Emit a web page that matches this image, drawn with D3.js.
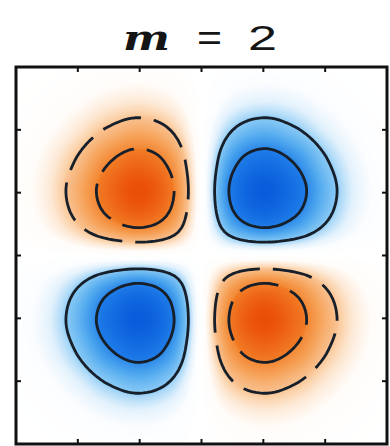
<!DOCTYPE html>
<html>
<head>
<meta charset="utf-8">
<script src="https://cdn.jsdelivr.net/npm/d3@7"></script>
<style>
  html, body { margin: 0; padding: 0; background: #ffffff; }
  svg { display: block; }
</style>
</head>
<body>
<svg id="chart" width="390" height="446"></svg>
<script>
// Azimuthal mode m = 2: field sampled on a 13 x 13 grid (rows top to bottom)
const titleSymbol = "m";
const titleValue = "2";
const xValues = [-3, -2.5, -2, -1.5, -1, -0.5, 0, 0.5, 1, 1.5, 2, 2.5, 3];
const yValues = [3, 2.5, 2, 1.5, 1, 0.5, 0, -0.5, -1, -1.5, -2, -2.5, -3];
const fieldRows = [
  [-0.00, -0.01, -0.02, -0.04, -0.06, -0.04, 0, 0.04, 0.06, 0.04, 0.02, 0.01, 0.00],
  [-0.01, -0.03, -0.08, -0.15, -0.18, -0.13, 0, 0.13, 0.18, 0.15, 0.08, 0.03, 0.01],
  [-0.02, -0.08, -0.20, -0.36, -0.45, -0.33, 0, 0.33, 0.45, 0.36, 0.20, 0.08, 0.02],
  [-0.04, -0.15, -0.36, -0.65, -0.80, -0.59, 0, 0.59, 0.80, 0.65, 0.36, 0.15, 0.04],
  [-0.06, -0.18, -0.45, -0.80, -1.00, -0.73, 0, 0.73, 1.00, 0.80, 0.45, 0.18, 0.06],
  [-0.04, -0.13, -0.33, -0.59, -0.73, -0.53, 0, 0.53, 0.73, 0.59, 0.33, 0.13, 0.04],
  [ 0.00,  0.00,  0.00,  0.00,  0.00,  0.00, 0, 0.00, 0.00, 0.00, 0.00, 0.00, 0.00],
  [ 0.04,  0.13,  0.33,  0.59,  0.73,  0.53, 0, -0.53, -0.73, -0.59, -0.33, -0.13, -0.04],
  [ 0.06,  0.18,  0.45,  0.80,  1.00,  0.73, 0, -0.73, -1.00, -0.80, -0.45, -0.18, -0.06],
  [ 0.04,  0.15,  0.36,  0.65,  0.80,  0.59, 0, -0.59, -0.80, -0.65, -0.36, -0.15, -0.04],
  [ 0.02,  0.08,  0.20,  0.36,  0.45,  0.33, 0, -0.33, -0.45, -0.36, -0.20, -0.08, -0.02],
  [ 0.01,  0.03,  0.08,  0.15,  0.18,  0.13, 0, -0.13, -0.18, -0.15, -0.08, -0.03, -0.01],
  [ 0.00,  0.01,  0.02,  0.04,  0.06,  0.04, 0, -0.04, -0.06, -0.04, -0.02, -0.01, -0.00]
];
const contourLevels = [1 / 3, 2 / 3];
const tickValues = [-2, -1, 0, 1, 2];

const plot = { left: 16, right: 387, top: 67, bottom: 444 };
const x = d3.scaleLinear().domain([-3, 3]).range([plot.left, plot.right]);
const y = d3.scaleLinear().domain([-3, 3]).range([plot.bottom, plot.top]);

const svg = d3.select("#chart");
const nCols = xValues.length, nRows = yValues.length;
const step = xValues[1] - xValues[0];

// Catmull-Rom sampling of the grid at any (xv, yv)
function cubic(p0, p1, p2, p3, t) {
  return p1 + 0.5 * t * (p2 - p0 + t * (2 * p0 - 5 * p1 + 4 * p2 - p3 + t * (3 * (p1 - p2) + p3 - p0)));
}
function cell(r, c) {
  r = Math.max(0, Math.min(nRows - 1, r));
  c = Math.max(0, Math.min(nCols - 1, c));
  return fieldRows[r][c];
}
function sample(xv, yv) {
  const fc = (xv - xValues[0]) / step, fr = (yValues[0] - yv) / step;
  const c = Math.floor(fc), r = Math.floor(fr);
  const tc = fc - c, tr = fr - r;
  const rowVals = [];
  for (let k = -1; k <= 2; k++) {
    rowVals.push(cubic(cell(r + k, c - 1), cell(r + k, c), cell(r + k, c + 1), cell(r + k, c + 2), tc));
  }
  return cubic(rowVals[0], rowVals[1], rowVals[2], rowVals[3], tr);
}

// Diverging colour map: orange for negative, blue for positive values
const blueScale = d3.scaleLinear()
  .domain([0, 0.1, 0.2, 0.3, 0.333, 0.5, 0.666, 0.667, 1])
  .range(["#ffffff", "#fbfdff", "#e2f1fc", "#a9d8f8", "#8bcaf5", "#55acef", "#2b88e9", "#1f7de8", "#095cdb"])
  .interpolate(d3.interpolateRgb).clamp(true);
const orangeScale = d3.scaleLinear()
  .domain([0, 0.1, 0.2, 0.3, 0.333, 0.5, 0.666, 0.667, 1])
  .range(["#ffffff", "#fffcf9", "#fde9d6", "#fbcfa4", "#f9c190", "#f6a45c", "#f38732", "#f27d27", "#ea4f06"])
  .interpolate(d3.interpolateRgb).clamp(true);
const colorFor = v => v >= 0 ? blueScale(v) : orangeScale(-v);

const clip = svg.append("defs").append("clipPath").attr("id", "plot-clip");
clip.append("rect")
  .attr("x", plot.left).attr("y", plot.top)
  .attr("width", plot.right - plot.left).attr("height", plot.bottom - plot.top);

// Shaded field
const cw = plot.right - plot.left, ch = plot.bottom - plot.top;
const canvas = document.createElement("canvas");
canvas.width = cw; canvas.height = ch;
const ctx = canvas.getContext("2d");
const img = ctx.createImageData(cw, ch);
for (let py = 0; py < ch; py++) {
  const yv = y.invert(plot.top + py + 0.5);
  for (let px = 0; px < cw; px++) {
    const xv = x.invert(plot.left + px + 0.5);
    const col = d3.rgb(colorFor(sample(xv, yv)));
    const i = (py * cw + px) * 4;
    img.data[i] = col.r; img.data[i + 1] = col.g; img.data[i + 2] = col.b; img.data[i + 3] = 255;
  }
}
ctx.putImageData(img, 0, 0);
svg.append("image")
  .attr("x", plot.left).attr("y", plot.top)
  .attr("width", cw).attr("height", ch)
  .attr("preserveAspectRatio", "none")
  .attr("href", canvas.toDataURL());

// Fine grid for contour tracing
const N = (nCols - 1) * 8 + 1;
const dstep = (xValues[nCols - 1] - xValues[0]) / (N - 1);
const fine = new Array(N * N);
for (let j = 0; j < N; j++) {
  for (let i = 0; i < N; i++) {
    fine[j * N + i] = sample(xValues[0] + i * dstep, yValues[0] - j * dstep);
  }
}
const toScreen = d3.geoTransform({
  point(px, py) {
    this.stream.point(x(xValues[0] + (px - 0.5) * dstep), y(yValues[0] - (py - 0.5) * dstep));
  }
});
const path = d3.geoPath(toScreen);
const contourGen = d3.contours().size([N, N]).thresholds(contourLevels);

const lines = svg.append("g").attr("clip-path", "url(#plot-clip)")
  .attr("fill", "none").attr("stroke", "#17202a").attr("stroke-width", 2.8)
  .attr("stroke-linejoin", "round");

lines.selectAll("path.pos")
  .data(contourGen(fine))
  .join("path").attr("class", "pos")
  .attr("d", path);

lines.selectAll("path.neg")
  .data(contourGen(fine.map(v => -v)))
  .join("path").attr("class", "neg")
  .attr("stroke-dasharray", "40 13")
  .attr("d", path);

// Frame and inward ticks
const frame = svg.append("g").attr("stroke", "#111111").attr("fill", "none");
tickValues.forEach(t => {
  frame.append("line").attr("x1", x(t)).attr("x2", x(t)).attr("y1", plot.top).attr("y2", plot.top + 5).attr("stroke-width", 2);
  frame.append("line").attr("x1", x(t)).attr("x2", x(t)).attr("y1", plot.bottom).attr("y2", plot.bottom - 5).attr("stroke-width", 2);
  frame.append("line").attr("y1", y(t)).attr("y2", y(t)).attr("x1", plot.left).attr("x2", plot.left + 5).attr("stroke-width", 2);
  frame.append("line").attr("y1", y(t)).attr("y2", y(t)).attr("x1", plot.right).attr("x2", plot.right - 5).attr("stroke-width", 2);
});
frame.append("rect")
  .attr("x", plot.left).attr("y", plot.top)
  .attr("width", plot.right - plot.left).attr("height", plot.bottom - plot.top)
  .attr("stroke-width", 3);

// Title
const title = svg.append("g").attr("fill", "#151515");
title.append("text")
  .attr("x", 123).attr("y", 50)
  .attr("font-family", "'DejaVu Serif', serif").attr("font-style", "italic")
  .attr("font-weight", "bold")
  .attr("font-size", 36)
  .attr("textLength", 47).attr("lengthAdjust", "spacingAndGlyphs")
  .text(titleSymbol);
title.append("text")
  .attr("x", 197).attr("y", 50)
  .attr("font-family", "'Liberation Sans', Arial, sans-serif")
  .attr("font-size", 36)
  .attr("textLength", 25).attr("lengthAdjust", "spacingAndGlyphs")
  .text("=");
title.append("text")
  .attr("x", 248).attr("y", 50)
  .attr("font-family", "'Liberation Sans', Arial, sans-serif")
  .attr("font-size", 35)
  .attr("textLength", 29).attr("lengthAdjust", "spacingAndGlyphs")
  .text(titleValue);
</script>
</body>
</html>
